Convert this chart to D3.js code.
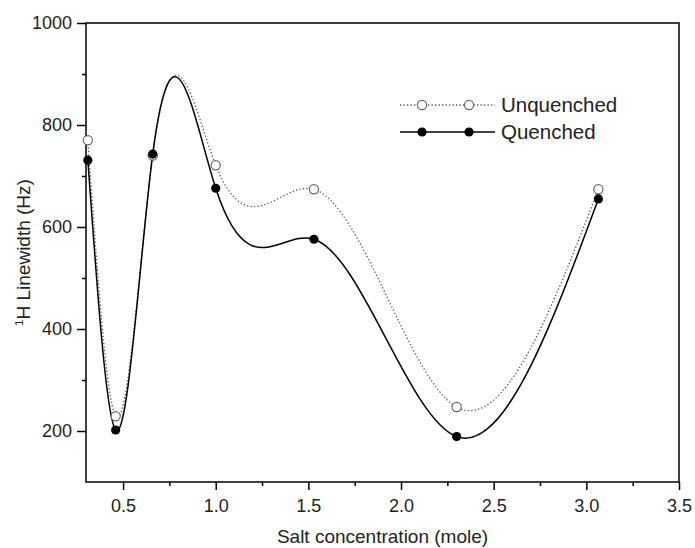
<!DOCTYPE html>
<html>
<head>
<meta charset="utf-8">
<script src="https://cdn.jsdelivr.net/npm/d3@7"></script>
<style>
  body { margin: 0; background: #fff; }
  svg { display: block; }
  svg text { font-family: "Liberation Sans", Arial, sans-serif; }
</style>
</head>
<body>
<div id="chart"></div>
<script>
// salt concentration (mole)
var saltConc = [0.31, 0.46, 0.66, 1.00, 1.53, 2.30, 3.065];
// 1H linewidth (Hz)
var unquenched = [770, 229, 740, 721, 674, 247, 674];
var quenched = [731, 202, 743, 676, 576, 189, 655];

var xMajor = [0.5, 1.0, 1.5, 2.0, 2.5, 3.0, 3.5];
var xMinor = [0.75, 1.25, 1.75, 2.25, 2.75, 3.25];
var yMajor = [200, 400, 600, 800, 1000];
var yMinor = [300, 500, 700, 900];

var svgW = 695, svgH = 548;
var plotL = 86, plotR = 679, plotT = 23, plotB = 482;

var svg = d3.select("#chart").append("svg")
  .attr("width", svgW)
  .attr("height", svgH);

var x = d3.scaleLinear().domain([0.3, 3.5]).range([plotL, plotR]);
var y = d3.scaleLinear().domain([100, 1000]).range([plotB, plotT]);

// natural cubic spline y(x), like the origin "spline" connection
function curveSplineX(context) {
  var xs, ys;
  return {
    areaStart: function() {},
    areaEnd: function() {},
    lineStart: function() { xs = []; ys = []; },
    point: function(px, py) { xs.push(+px); ys.push(+py); },
    lineEnd: function() {
      var n = xs.length - 1;
      if (n < 1) return;
      var h = [], M = new Array(n + 1).fill(0);
      for (var i = 0; i < n; i++) h.push(xs[i + 1] - xs[i]);
      // tridiagonal solve, natural ends
      var a = [], b = [], c = [], d = [];
      for (i = 1; i < n; i++) {
        a.push(h[i - 1]);
        b.push(2 * (h[i - 1] + h[i]));
        c.push(h[i]);
        d.push(6 * ((ys[i + 1] - ys[i]) / h[i] - (ys[i] - ys[i - 1]) / h[i - 1]));
      }
      var m = b.length;
      for (i = 1; i < m; i++) {
        var w = a[i] / b[i - 1];
        b[i] -= w * c[i - 1];
        d[i] -= w * d[i - 1];
      }
      for (i = m - 1; i >= 0; i--) {
        M[i + 1] = (d[i] - (i < m - 1 ? c[i] * M[i + 2] : 0)) / b[i];
      }

      context.moveTo(xs[0], ys[0]);
      for (i = 0; i < n; i++) {
        var s = (ys[i + 1] - ys[i]) / h[i];
        var d0 = s - h[i] * (2 * M[i] + M[i + 1]) / 6;
        var d1 = s + h[i] * (M[i] + 2 * M[i + 1]) / 6;
        context.bezierCurveTo(
          xs[i] + h[i] / 3, ys[i] + d0 * h[i] / 3,
          xs[i + 1] - h[i] / 3, ys[i + 1] - d1 * h[i] / 3,
          xs[i + 1], ys[i + 1]);
      }
    }
  };
}

var line = d3.line()
  .x(d => x(d[0]))
  .y(d => y(d[1]))
  .curve(curveSplineX);

var unqData = saltConc.map((v, i) => [v, unquenched[i]]);
var qData = saltConc.map((v, i) => [v, quenched[i]]);

// axes
var xAxis = svg.append("g")
  .attr("transform", "translate(0," + plotB + ")")
  .call(d3.axisBottom(x).tickValues(xMajor).tickFormat(d3.format(".1f"))
    .tickSize(8).tickPadding(9).tickSizeOuter(0));
xAxis.select(".domain").remove();
xAxis.selectAll("text").style("font-size", "18px").attr("fill", "#222");
xAxis.selectAll("line").attr("stroke-width", 1.5);

var xAxisMinor = svg.append("g")
  .attr("transform", "translate(0," + plotB + ")")
  .call(d3.axisBottom(x).tickValues(xMinor).tickFormat("").tickSize(4).tickSizeOuter(0));
xAxisMinor.select(".domain").remove();
xAxisMinor.selectAll("line").attr("stroke-width", 1.5);

var yAxis = svg.append("g")
  .attr("transform", "translate(" + plotL + ",0)")
  .call(d3.axisLeft(y).tickValues(yMajor).tickFormat(d3.format("d"))
    .tickSize(9).tickPadding(5).tickSizeOuter(0));
yAxis.select(".domain").remove();
yAxis.selectAll("text").style("font-size", "18px").attr("fill", "#222");
yAxis.selectAll("line").attr("stroke-width", 1.5);

var yAxisMinor = svg.append("g")
  .attr("transform", "translate(" + plotL + ",0)")
  .call(d3.axisLeft(y).tickValues(yMinor).tickFormat("").tickSize(4).tickSizeOuter(0));
yAxisMinor.select(".domain").remove();
yAxisMinor.selectAll("line").attr("stroke-width", 1.5);

// frame
svg.append("rect")
  .attr("x", plotL).attr("y", plotT)
  .attr("width", plotR - plotL).attr("height", plotB - plotT)
  .attr("fill", "none")
  .attr("stroke", "#111")
  .attr("stroke-width", 1.6);

// axis titles
svg.append("text")
  .attr("x", (plotL + plotR) / 2)
  .attr("y", 543)
  .attr("text-anchor", "middle")
  .style("font-size", "19px")
  .attr("fill", "#222")
  .text("Salt concentration (mole)");

var yTitle = svg.append("text")
  .attr("transform", "translate(30," + (plotT + plotB) / 2 + ") rotate(-90)")
  .attr("text-anchor", "middle")
  .style("font-size", "19px")
  .attr("fill", "#222");
yTitle.append("tspan").attr("dy", "-7").style("font-size", "11.5px").text("1");
yTitle.append("tspan").attr("dy", "7").text("H Linewidth (Hz)");

// curves
svg.append("path")
  .datum(unqData)
  .attr("d", line)
  .attr("fill", "none")
  .attr("stroke", "#555")
  .attr("stroke-width", 1.3)
  .attr("stroke-dasharray", "1.3,2.2");

svg.append("path")
  .datum(qData)
  .attr("d", line)
  .attr("fill", "none")
  .attr("stroke", "#000")
  .attr("stroke-width", 1.5);

// markers
svg.append("g").selectAll("circle")
  .data(unqData).join("circle")
  .attr("cx", d => x(d[0]))
  .attr("cy", d => y(d[1]))
  .attr("r", 4.6)
  .attr("fill", "#fff")
  .attr("stroke", "#666")
  .attr("stroke-width", 1.2);

svg.append("g").selectAll("circle")
  .data(qData).join("circle")
  .attr("cx", d => x(d[0]))
  .attr("cy", d => y(d[1]))
  .attr("r", 4.6)
  .attr("fill", "#000");

// legend
var legend = svg.append("g");
var legendItems = [
  {name: "Unquenched", y: 105, dash: "1.3,2.2", stroke: "#555", fill: "#fff", cstroke: "#666", sw: 1.3},
  {name: "Quenched", y: 132, dash: null, stroke: "#000", fill: "#000", cstroke: "none", sw: 1.5}
];
legendItems.forEach(function(it) {
  legend.append("line")
    .attr("x1", 400).attr("x2", 495)
    .attr("y1", it.y).attr("y2", it.y)
    .attr("stroke", it.stroke)
    .attr("stroke-width", it.sw)
    .attr("stroke-dasharray", it.dash);
  [422, 469].forEach(function(cx) {
    legend.append("circle")
      .attr("cx", cx).attr("cy", it.y).attr("r", 4.6)
      .attr("fill", it.fill)
      .attr("stroke", it.cstroke)
      .attr("stroke-width", 1.2);
  });
  legend.append("text")
    .attr("x", 501).attr("y", it.y)
    .attr("dy", "0.36em")
    .style("font-size", "20.5px")
    .attr("fill", "#222")
    .text(it.name);
});
</script>
</body>
</html>
